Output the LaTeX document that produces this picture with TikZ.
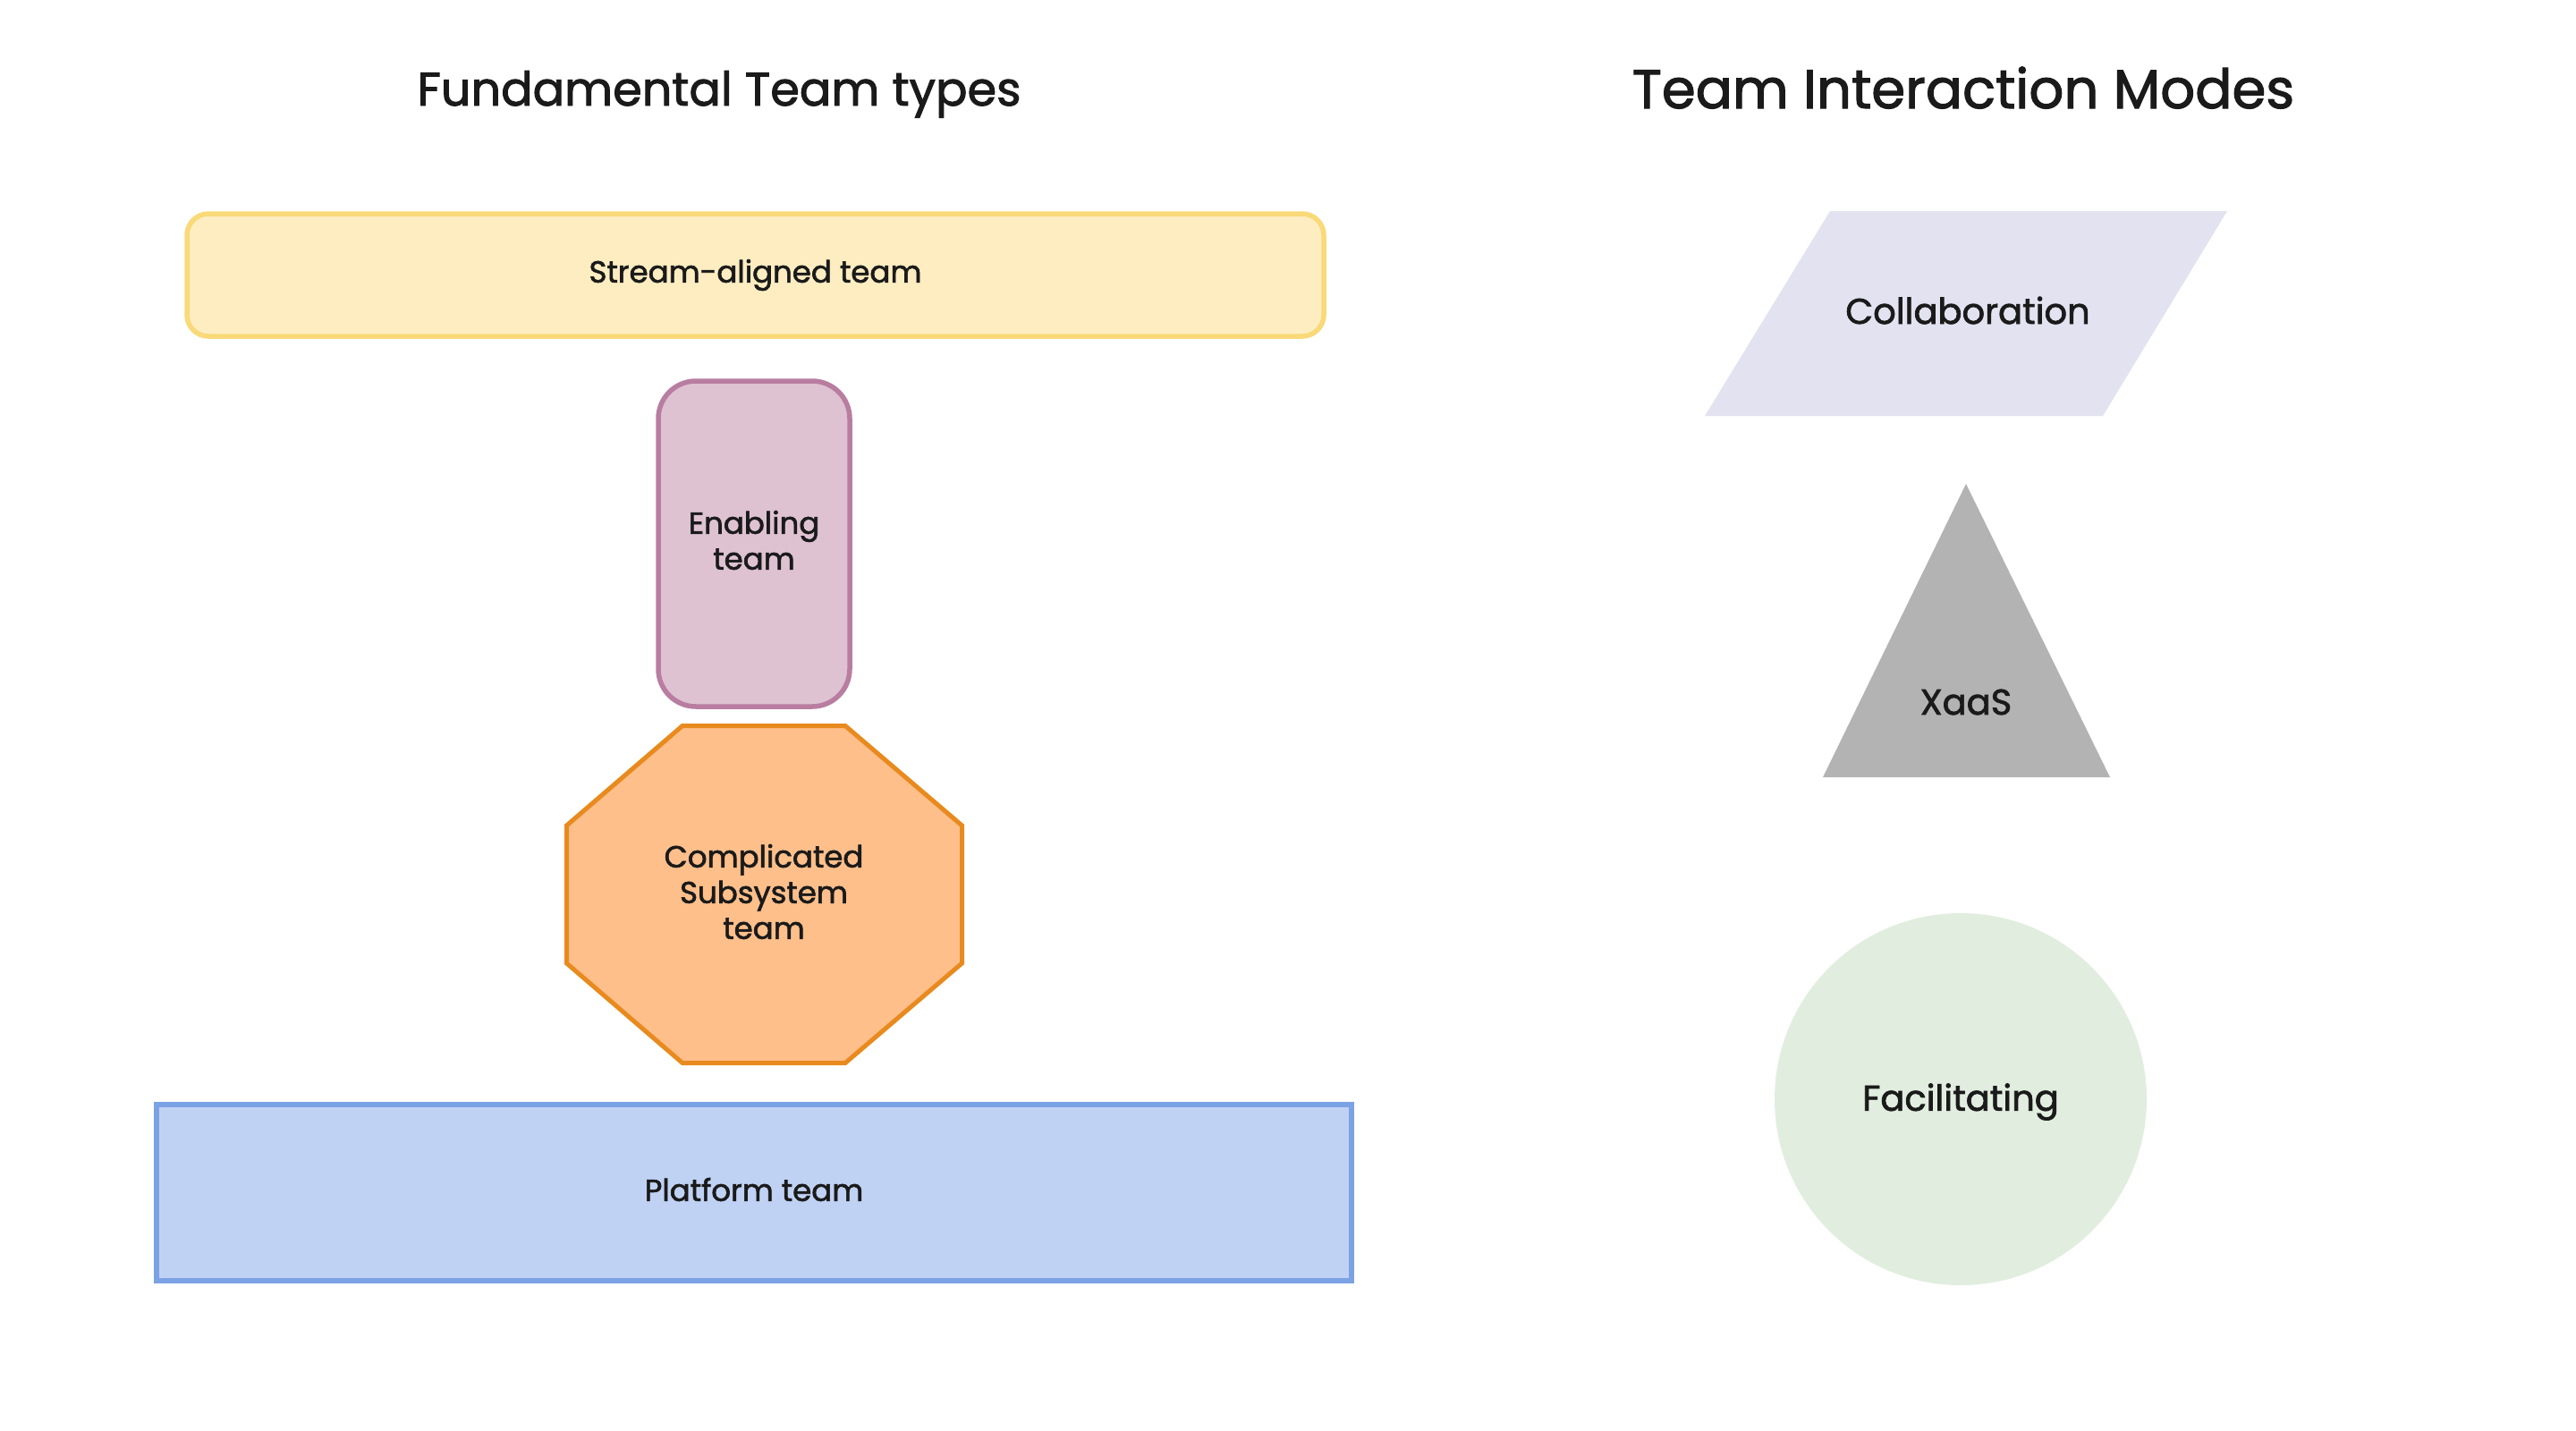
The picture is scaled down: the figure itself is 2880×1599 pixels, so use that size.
\documentclass[tikz,border=0pt]{standalone}
\usepackage{fontspec}
\setmainfont{Poppins}[FakeBold=1.8]
\begin{document}
\definecolor{ink}{HTML}{1A1A1A}
\definecolor{streamfill}{HTML}{FDEDC1}
\definecolor{streamline}{HTML}{F9D978}
\definecolor{enablefill}{HTML}{DEC2D2}
\definecolor{enableline}{HTML}{B87DA0}
\definecolor{compfill}{HTML}{FEBF8B}
\definecolor{compline}{HTML}{E88A1E}
\definecolor{platfill}{HTML}{C0D2F3}
\definecolor{platline}{HTML}{7BA2E4}
\definecolor{collabfill}{HTML}{E3E2F0}
\definecolor{xaasfill}{HTML}{B3B3B3}
\definecolor{facilfill}{HTML}{E1EEDF}
\begin{tikzpicture}[x=1pt,y=-1pt,
  heading/.style={text=ink,inner sep=0pt,anchor=base},
  smalllabel/.style={text=ink,align=center,inner sep=0pt,
    font=\fontsize{34}{40}\selectfont},
  biglabel/.style={text=ink,align=center,inner sep=0pt,
    font=\fontsize{40}{47}\selectfont},
  teambox/.style={draw,line width=5.5pt,inner sep=0pt},
]
\useasboundingbox[fill=white] (0,0) rectangle (2880,1599);

% column headings
\node[heading,font=\fontsize{52.5}{64}\selectfont] (headL) at (804,118) {Fundamental Team types};
\node[heading,font=\fontsize{61}{73}\selectfont] (headR) at (2195,121) {Team Interaction Modes};

% fundamental team types
\node[teambox,draw=streamline,fill=streamfill,rounded corners=24pt,
  minimum width=1271pt,minimum height=137pt,smalllabel] (stream) at (844.5,307.5) {Stream-aligned team};

\node[teambox,draw=enableline,fill=enablefill,rounded corners=42pt,
  minimum width=214pt,minimum height=364pt,smalllabel] (enable) at (843,608) {};
\node[smalllabel] (enabletext) at (843,604) {Enabling\\team};

\draw[line width=5pt,draw=compline,fill=compfill,line join=miter]
  (763,811.5) -- (945,811.5) -- (1075.5,923) -- (1075.5,1077) -- (945,1188.5)
  -- (763,1188.5) -- (633.5,1077) -- (633.5,923) -- cycle;
\node[smalllabel] (complicated) at (854,997) {Complicated\\Subsystem\\team};

\node[teambox,draw=platline,fill=platfill,
  minimum width=1336pt,minimum height=197pt] (platform) at (843,1333.5) {};
\node[smalllabel] (platformtext) at (843,1330) {Platform team};

% team interaction modes
\fill[collabfill] (2046,236) -- (2490,236) -- (2351,465) -- (1906,465) -- cycle;
\node[biglabel] (collab) at (2200,347) {Collaboration};

\fill[xaasfill] (2198,541) -- (2359,869) -- (2038,869) -- cycle;
\node[biglabel] (xaas) at (2198,785) {XaaS};

\node[circle,fill=facilfill,minimum size=416pt,inner sep=0pt] (facil) at (2192,1229) {};
\node[biglabel] (faciltext) at (2192,1232) {Facilitating};
\end{tikzpicture}
\end{document}
